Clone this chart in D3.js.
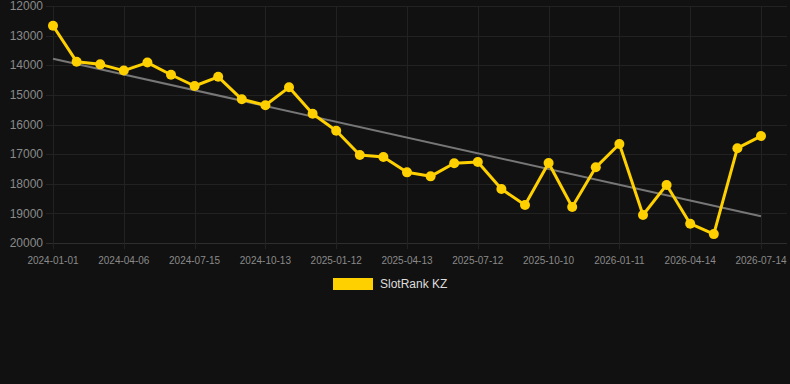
<!DOCTYPE html>
<html>
<head>
<meta charset="utf-8">
<script src="https://cdn.jsdelivr.net/npm/d3@7/dist/d3.min.js"></script>
<style>
  html, body { margin: 0; padding: 0; background: #111111; }
  svg { display: block; }
</style>
</head>
<body>
<svg id="chart" width="790" height="384"></svg>
<script>
const dates = [
  "2024-01-01","2024-02-02","2024-03-05","2024-04-06","2024-05-09","2024-06-12",
  "2024-07-15","2024-08-14","2024-09-13","2024-10-13","2024-11-12","2024-12-12",
  "2025-01-12","2025-02-11","2025-03-13","2025-04-13","2025-05-13","2025-06-12",
  "2025-07-12","2025-08-11","2025-09-10","2025-10-10","2025-11-10","2025-12-11",
  "2026-01-11","2026-02-11","2026-03-14","2026-04-14","2026-05-14","2026-06-13",
  "2026-07-14"
];
const ranks = [
  12665, 13880, 13970, 14180, 13910, 14320,
  14700, 14390, 15150, 15350, 14745, 15635,
  16210, 17030, 17100, 17615, 17750, 17310,
  17265, 18180, 18720, 17300, 18785, 17445,
  16660, 19055, 18040, 19350, 19700, 16800,
  16390
];
const yTicks = [12000, 13000, 14000, 15000, 16000, 17000, 18000, 19000, 20000];
const xTickLabels = ["2024-01-01","2024-04-06","2024-07-15","2024-10-13","2025-01-12",
  "2025-04-13","2025-07-12","2025-10-10","2026-01-11","2026-04-14","2026-07-14"];
const seriesName = "SlotRank KZ";

(function () {
const svg = d3.select("#chart");
const plotL = 53, plotR = 761, plotT = 6, plotB = 243;
const x = d3.scalePoint().domain(dates).range([plotL, plotR]);
const y = d3.scaleLinear().domain([12000, 20000]).range([plotT, plotB]);

svg.append("rect").attr("width", 790).attr("height", 384).attr("fill", "#111111");

// horizontal grid
svg.append("g").selectAll("line").data(yTicks).join("line")
  .attr("x1", 46).attr("x2", 787)
  .attr("y1", d => Math.round(y(d)) + 0.5).attr("y2", d => Math.round(y(d)) + 0.5)
  .attr("stroke", d => d === 20000 ? "#2e2e2e" : "#222222").attr("stroke-width", 1);

// vertical grid
svg.append("g").selectAll("line").data(xTickLabels).join("line")
  .attr("x1", d => Math.round(x(d)) + 0.5).attr("x2", d => Math.round(x(d)) + 0.5)
  .attr("y1", plotT).attr("y2", plotB + 6)
  .attr("stroke", "#222222").attr("stroke-width", 1);

// y axis labels
svg.append("g").selectAll("text").data(yTicks).join("text")
  .attr("x", 43).attr("y", d => y(d)).attr("dy", "0.35em")
  .attr("text-anchor", "end")
  .attr("font-family", "Liberation Sans, Arial, sans-serif").attr("font-size", 12)
  .attr("fill", "#8a8a8a").text(d => d);

// x axis labels
svg.append("g").selectAll("text").data(xTickLabels).join("text")
  .attr("x", d => x(d)).attr("y", 264)
  .attr("text-anchor", "middle")
  .attr("font-family", "Liberation Sans, Arial, sans-serif").attr("font-size", 10)
  .attr("fill", "#8a8a8a").text(d => d);

// trend line (least squares)
const n = ranks.length;
const idx = d3.range(n);
const mx = d3.mean(idx), my = d3.mean(ranks);
const slope = d3.sum(idx, i => (i - mx) * (ranks[i] - my)) / d3.sum(idx, i => (i - mx) ** 2);
const icpt = my - slope * mx;
svg.append("line")
  .attr("x1", x(dates[0])).attr("y1", y(icpt))
  .attr("x2", x(dates[n - 1])).attr("y2", y(icpt + slope * (n - 1)))
  .attr("stroke", "#777777").attr("stroke-width", 2);

// series line
const line = d3.line().x((d, i) => x(dates[i])).y(d => y(d));
svg.append("path").datum(ranks)
  .attr("d", line).attr("fill", "none")
  .attr("stroke", "#FFD000").attr("stroke-width", 3).attr("stroke-linejoin", "round");

svg.append("g").selectAll("circle").data(ranks).join("circle")
  .attr("cx", (d, i) => x(dates[i])).attr("cy", d => y(d)).attr("r", 5)
  .attr("fill", "#FFD000");

// legend
svg.append("rect").attr("x", 333).attr("y", 278).attr("width", 40).attr("height", 12)
  .attr("fill", "#FFD000");
svg.append("text").attr("x", 380).attr("y", 284).attr("dy", "0.35em")
  .attr("font-family", "Liberation Sans, Arial, sans-serif").attr("font-size", 12)
  .attr("fill", "#dddddd").text(seriesName);
})();
</script>
</body>
</html>
